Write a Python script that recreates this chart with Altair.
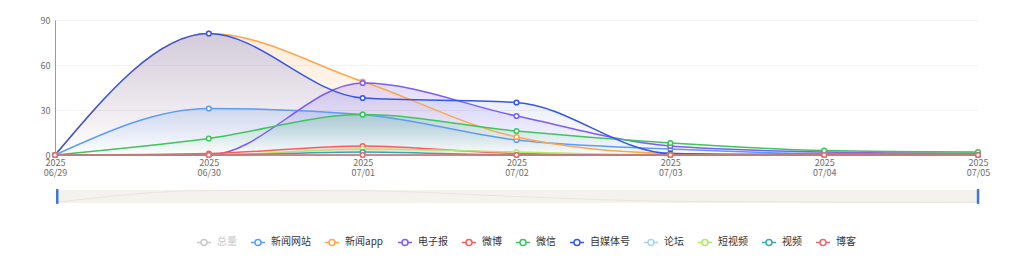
import altair as alt
import pandas as pd

dates = ["2025-06-29", "2025-06-30", "2025-07-01", "2025-07-02", "2025-07-03", "2025-07-04", "2025-07-05"]

series_names = ["总量", "新闻网站", "新闻app", "电子报", "微博", "微信", "自媒体号", "论坛", "短视频", "视频", "博客"]
series_colors = ["#c8c8c8", "#5a9cf8", "#ffa64d", "#7c5cfa", "#ff5b5b", "#3dc55f", "#3557e8", "#a5d3f7", "#b3e66b", "#37a8b0", "#e66a6a"]

# hidden series (legend toggled off) - only visible as the slider's data shadow
v_zongliang = [0, 205, 201, 102, 20, 8, 6]
v_xinwenwangzhan = [0, 31, 27, 10, 4, 1, 1]
v_xinwenapp = [0, 81, 49, 12, 1, 0, 0]
v_dianzibao = [0, 0, 48, 26, 6, 2, 1]
v_weibo = [0, 1, 6, 1, 0, 1, 1]
v_weixin = [0, 11, 27, 16, 8, 3, 2]
v_zimeiti = [0, 81, 38, 35, 1, 0, 0]
v_luntan = [0, 0, 0, 0, 0, 0, 0]
v_duanshipin = [0, 0, 4, 2, 0, 0, 0]
v_shipin = [0, 0, 2, 0, 0, 0, 0]
v_boke = [0, 0, 0, 0, 0, 0, 0]

y_ticks = [0, 30, 60, 90]

visible = {
    "新闻网站": v_xinwenwangzhan,
    "新闻app": v_xinwenapp,
    "电子报": v_dianzibao,
    "微博": v_weibo,
    "微信": v_weixin,
    "自媒体号": v_zimeiti,
    "论坛": v_luntan,
    "短视频": v_duanshipin,
    "视频": v_shipin,
    "博客": v_boke,
}

rows = []
for name, vals in visible.items():
    for d, v in zip(dates, vals):
        rows.append({"date": d, "series": name, "value": v})
df = pd.DataFrame(rows)
shadow_df = pd.DataFrame({"date": dates, "value": v_zongliang})

FONT = "Noto Sans CJK SC"

x_enc = alt.X(
    "date:O",
    sort=dates,
    scale=alt.Scale(type="point", padding=0),
    axis=alt.Axis(
        title=None, labelAngle=0, ticks=False, grid=False,
        domainColor="#9a9a9a", labelColor="#6e6e6e", labelFontSize=9,
        labelLineHeight=10, labelPadding=3, labelFont=FONT,
        labelExpr="[slice(datum.label,0,4), replace(slice(datum.label,5),'-','/')]",
    ),
)
y_enc = alt.Y(
    "value:Q",
    scale=alt.Scale(domain=[0, 90], nice=False),
    axis=alt.Axis(
        title=None, values=y_ticks, ticks=False, grid=True, gridColor="#f2f2f2",
        domainColor="#9a9a9a", labelColor="#6e6e6e", labelFontSize=9,
        labelPadding=5, labelFont=FONT,
    ),
)

color_scale = alt.Scale(domain=series_names, range=series_colors)

def rgba(hexc, a):
    h = hexc.lstrip("#")
    r, g, b = int(h[0:2], 16), int(h[2:4], 16), int(h[4:6], 16)
    return f"rgba({r},{g},{b},{a})"

layers = []
for name, col in zip(series_names, series_colors):
    if name not in visible:
        continue
    sub = df[df["series"] == name]
    area = alt.Chart(sub).mark_area(
        interpolate="monotone",
        color=alt.Gradient(
            gradient="linear",
            stops=[
                alt.GradientStop(color=rgba(col, 0.22), offset=0),
                alt.GradientStop(color=rgba(col, 0.0), offset=1),
            ],
            x1=1, x2=1, y1=0, y2=1,
        ),
    ).encode(x=x_enc, y=y_enc)
    layers.append(area)

legend = alt.Legend(
    title=None, orient="none", direction="horizontal", columns=11,
    legendX=141, legendY=214,
    symbolType="M-1,0L-0.43,0M0.43,0L1,0M0.43,0A0.43,0.43,0,1,1,-0.43,0A0.43,0.43,0,1,1,0.43,0",
    symbolSize=196, symbolStrokeWidth=1.5, symbolFillColor="white",
    labelFontSize=10, labelFont=FONT, labelOffset=5,
    labelColor={"expr": "datum.value === '总量' ? '#c8c8c8' : '#333333'"},
    columnPadding=11,
)

lines = alt.Chart(df).mark_line(interpolate="monotone", strokeWidth=1.5).encode(
    x=x_enc, y=y_enc,
    color=alt.Color("series:N", scale=color_scale, legend=legend, sort=series_names),
)
points = alt.Chart(df).mark_point(filled=True, fill="white", size=22, strokeWidth=1.5, opacity=1).encode(
    x=x_enc, y=y_enc,
    stroke=alt.Stroke("series:N", scale=color_scale, legend=None),
)

one = pd.DataFrame({"k": [0]})
band = alt.Chart(one).mark_rect(color="#f5f1ec").encode(
    x=alt.value(2), x2=alt.value(923), y=alt.value(170), y2=alt.value(183)
)
shadow = alt.Chart(shadow_df).transform_calculate(
    py="182.5 - datum.value / 205 * 12"
).mark_line(color="#e9e4dd", strokeWidth=1, interpolate="monotone").encode(
    x=x_enc, y=alt.Y("py:Q", scale=None, axis=None)
)
h1 = alt.Chart(one).mark_rect(color="#3a78dc", cornerRadius=1).encode(
    x=alt.value(1), x2=alt.value(3.5), y=alt.value(169), y2=alt.value(184)
)
h2 = alt.Chart(one).mark_rect(color="#3a78dc", cornerRadius=1).encode(
    x=alt.value(921.8), x2=alt.value(924.3), y=alt.value(169), y2=alt.value(184)
)

chart = alt.layer(*layers, lines, points, band, shadow, h1, h2).properties(
    width=923, height=135,
    autosize=alt.AutoSizeParams(type="none"),
    padding={"left": 55, "top": 20, "right": 40, "bottom": 106},
).configure(font=FONT).configure_view(strokeWidth=0, stroke="transparent")

chart.save("out.html", embed_options={"renderer": "svg", "actions": False})
